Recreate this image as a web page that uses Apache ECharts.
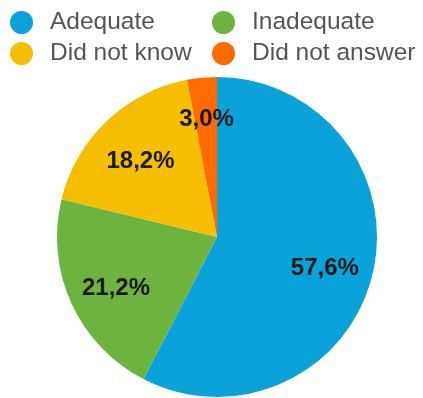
<!DOCTYPE html>
<html>
<head>
<meta charset="utf-8">
<script src="https://cdn.jsdelivr.net/npm/echarts@6/dist/echarts.min.js"></script>
<style>
html,body{margin:0;padding:0;background:#fff;}
#c{width:423px;height:398px;}
</style>
</head>
<body>
<div id="c"></div>
<script>
var categories = ['Adequate', 'Inadequate', 'Did not know', 'Did not answer'];
var values = [57.6, 21.2, 18.2, 3.0];
var colors = ['#0aa2d9', '#6cb43f', '#f6be00', '#ff6b00'];
var labelShift = [5, 5, 5, -7];

var data = categories.map(function (n, i) {
  return { name: n, value: values[i], itemStyle: { color: colors[i] } };
});
var fmt = function (p) { return p.value.toFixed(1).replace('.', ',') + '%'; };

var legendCommon = {
  orient: 'vertical',
  top: 10,
  padding: 0,
  itemWidth: 23,
  itemHeight: 23,
  itemGap: 6,
  icon: 'circle',
  selectedMode: false,
  textStyle: {
    fontFamily: 'Liberation Sans, Arial, sans-serif',
    fontSize: 24.5,
    lineHeight: 24,
    color: '#555',
    padding: [0, 0, 0, 12]
  }
};

var chart = echarts.init(document.getElementById('c'));
chart.setOption({
  animation: false,
  color: colors,
  legend: [
    Object.assign({}, legendCommon, { left: 10, data: [categories[0], categories[2]] }),
    Object.assign({}, legendCommon, { left: 212, data: [categories[1], categories[3]] })
  ],
  series: [
    {
      type: 'pie',
      center: [217, 237],
      radius: 160,
      startAngle: 90,
      clockwise: true,
      label: { show: false },
      labelLine: { show: false },
      emphasis: { disabled: true },
      data: data
    },
    {
      type: 'pie',
      center: [217, 237],
      radius: [56, 160],
      startAngle: 90,
      clockwise: true,
      silent: true,
      itemStyle: { color: 'rgba(0,0,0,0)' },
      label: {
        show: true,
        position: 'inside',
        formatter: fmt,
        fontFamily: 'Liberation Sans, Arial, sans-serif',
        fontSize: 24,
        fontWeight: 'bold',
        color: '#1a1a1a'
      },
      labelLine: { show: false },
      emphasis: { disabled: true },
      data: categories.map(function (n, i) {
        return {
          name: n,
          value: values[i],
          itemStyle: { color: 'rgba(0,0,0,0)' },
          label: { offset: [0, labelShift[i]] }
        };
      })
    }
  ]
});
</script>
</body>
</html>
